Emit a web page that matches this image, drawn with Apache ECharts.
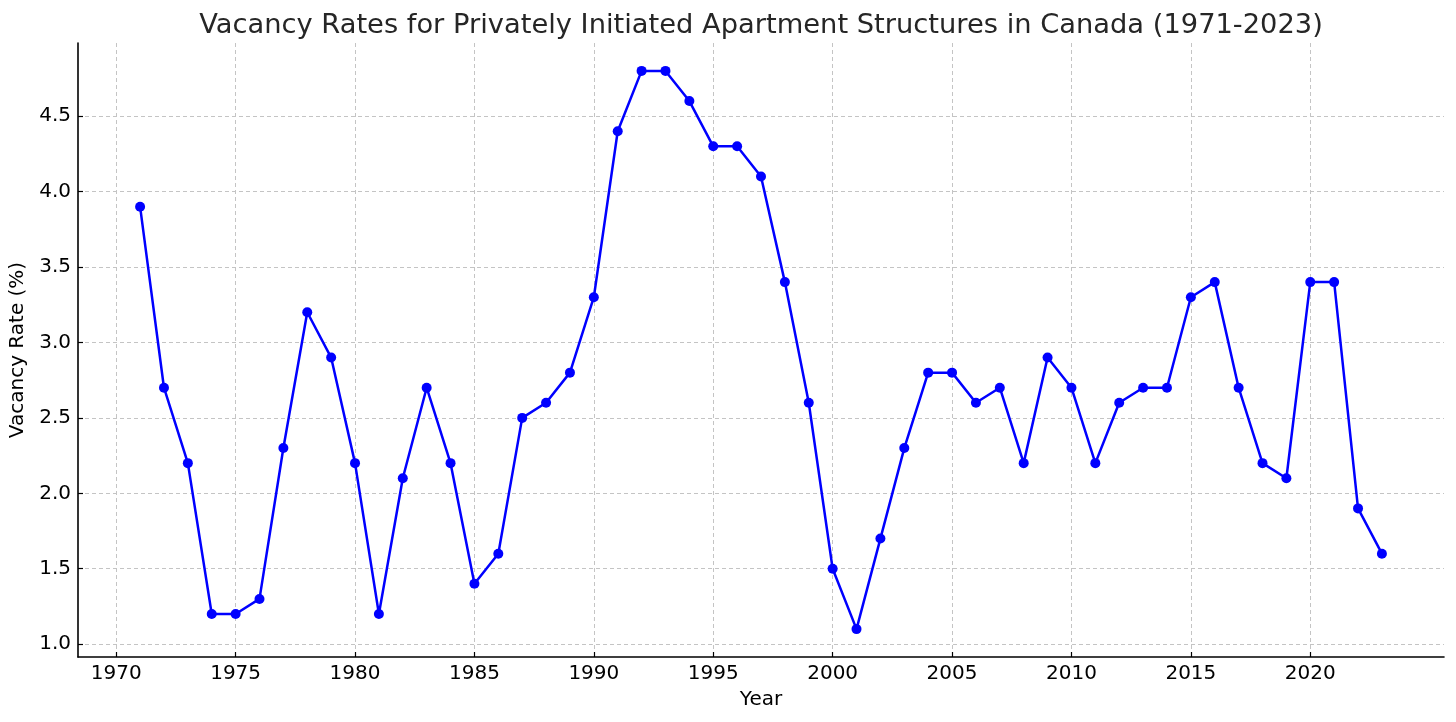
<!DOCTYPE html>
<html><head><meta charset="utf-8">
<script src="https://cdn.jsdelivr.net/npm/echarts@6/dist/echarts.min.js"></script>
<style>html,body{margin:0;padding:0;background:#fff}#c{width:1456px;height:722px}</style>
</head><body><div id="c"></div>
<script>
const years = [1971,1972,1973,1974,1975,1976,1977,1978,1979,1980,1981,1982,1983,1984,1985,1986,1987,1988,1989,1990,1991,1992,1993,1994,1995,1996,1997,1998,1999,2000,2001,2002,2003,2004,2005,2006,2007,2008,2009,2010,2011,2012,2013,2014,2015,2016,2017,2018,2019,2020,2021,2022,2023];
const rates = [3.9,2.7,2.2,1.2,1.2,1.3,2.3,3.2,2.9,2.2,1.2,2.1,2.7,2.2,1.4,1.6,2.5,2.6,2.8,3.3,4.4,4.8,4.8,4.6,4.3,4.3,4.1,3.4,2.6,1.5,1.1,1.7,2.3,2.8,2.8,2.6,2.7,2.2,2.9,2.7,2.2,2.6,2.7,2.7,3.3,3.4,2.7,2.2,2.1,3.4,3.4,1.9,1.6];
const xTicks = [1970,1975,1980,1985,1990,1995,2000,2005,2010,2015,2020];
const yTicks = [1.0,1.5,2.0,2.5,3.0,3.5,4.0,4.5];
const titleText = 'Vacancy Rates for Privately Initiated Apartment Structures in Canada (1971-2023)';

const font = 'DejaVu Sans';
const chart = echarts.init(document.getElementById('c'), null, {renderer:'canvas'});
chart.setOption({
  animation:false,
  backgroundColor:'#fff',
  title:{text:titleText,left:756,top:7,textAlign:'center',
    textStyle:{fontFamily:font,fontSize:27.3,fontWeight:'normal',color:'#262626'}},
  grid:{left:78,right:12,top:43,bottom:65,containLabel:false,outerBoundsMode:'none'},
  xAxis:{type:'value',min:1968.4,max:2025.6,
    name:'Year',nameLocation:'middle',nameGap:33,
    nameTextStyle:{fontFamily:font,fontSize:20,color:'#000'},
    axisLine:{show:true,onZero:false,lineStyle:{color:'#000',width:1.6}},
    axisTick:{show:true,inside:true,length:5,customValues:xTicks,lineStyle:{color:'#000',width:1.2}},
    axisLabel:{customValues:xTicks,fontFamily:font,fontSize:20,color:'#000',margin:7,formatter:v=>String(v)},
    splitLine:{show:true,lineStyle:{color:'#c4c4c4',type:[4,3],width:1}}},
  yAxis:{type:'value',min:0.915,max:4.985,
    name:'Vacancy Rate (%)',nameLocation:'middle',nameGap:44,nameRotate:90,
    nameTextStyle:{fontFamily:font,fontSize:20,color:'#000'},
    axisLine:{show:true,onZero:false,lineStyle:{color:'#000',width:1.6}},
    axisTick:{show:true,inside:true,length:5,customValues:yTicks,lineStyle:{color:'#000',width:1.2}},
    axisLabel:{customValues:yTicks,fontFamily:font,fontSize:20,color:'#000',margin:7,formatter:v=>v.toFixed(1)},
    splitLine:{show:true,lineStyle:{color:'#c4c4c4',type:[4,3],width:1}}},
  series:[{type:'line',data:years.map((y,i)=>[y,rates[i]]),
    symbol:'circle',symbolSize:10,
    lineStyle:{color:'#0000ff',width:2.5},
    itemStyle:{color:'#0000ff'},
    clip:false}]
});
</script></body></html>
